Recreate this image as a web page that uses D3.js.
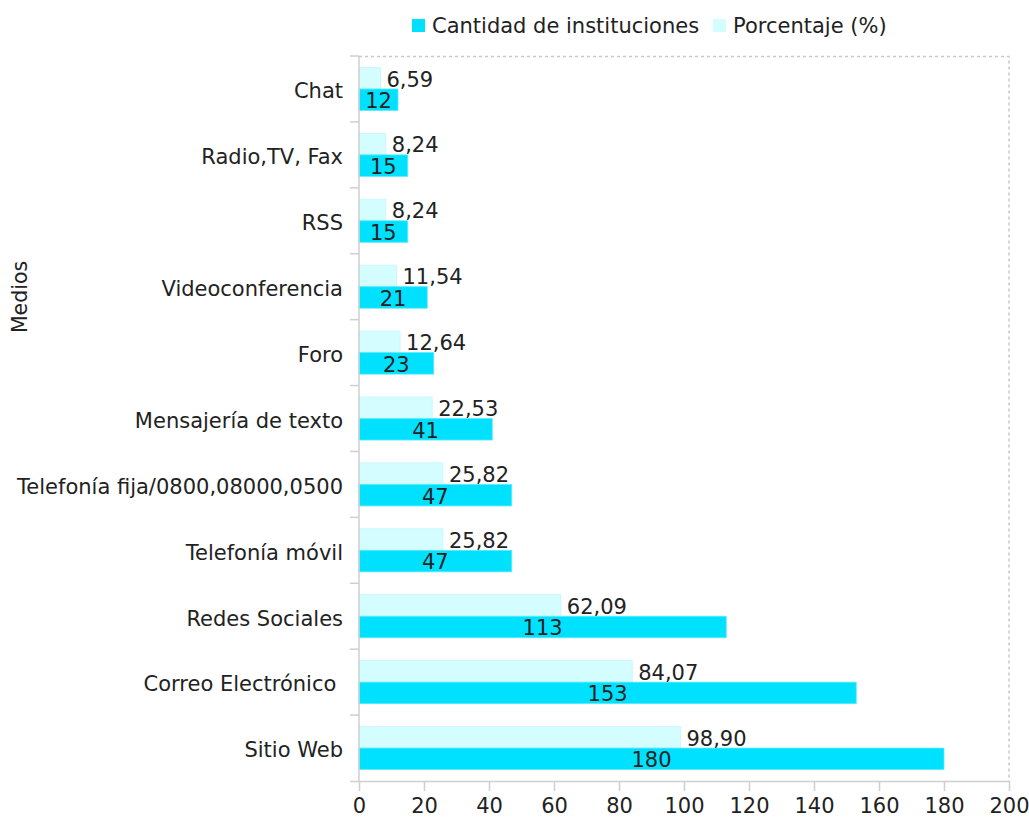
<!DOCTYPE html>
<html>
<head>
<meta charset="utf-8">
<script src="https://cdn.jsdelivr.net/npm/d3@7"></script>
<style>
  body { margin: 0; background: #fff; }
  text { font-family: "DejaVu Sans", Verdana, sans-serif; fill: #222; }
</style>
</head>
<body>
<svg id="chart"></svg>
<script>
// Data
const categories = ['Chat', 'Radio,TV, Fax', 'RSS', 'Videoconferencia', 'Foro', 'Mensajería de texto',
  'Telefonía fija/0800,08000,0500', 'Telefonía móvil', 'Redes Sociales', 'Correo Electrónico\u00a0', 'Sitio Web'];
const cantidad = [12, 15, 15, 21, 23, 41, 47, 47, 113, 153, 180];
const porcentaje = [6.59, 8.24, 8.24, 11.54, 12.64, 22.53, 25.82, 25.82, 62.09, 84.07, 98.90];
const xTicks = [0, 20, 40, 60, 80, 100, 120, 140, 160, 180, 200];
const seriesNames = ['Cantidad de instituciones', 'Porcentaje (%)'];

const darkColor = '#00e1ff';
const lightColor = '#d4fdff';
const width = 1029, height = 819;
const margin = { top: 56, right: 20, bottom: 38, left: 359 };

const svg = d3.select('#chart').attr('width', width).attr('height', height);

const x = d3.scaleLinear().domain([0, 200]).range([margin.left, width - margin.right]);
const y = d3.scaleBand().domain(categories).range([margin.top, height - margin.bottom]);
const sub = d3.scaleBand().domain(['pct', 'cant']).range([0, y.bandwidth()]).paddingOuter(0.53);

// dotted frame top/right
svg.append('path')
  .attr('d', `M${x(0)},${margin.top + 0.5}H${x(200)}V${height - margin.bottom}`)
  .attr('fill', 'none').attr('stroke', '#c8c8c8').attr('stroke-width', 1.5).attr('stroke-dasharray', '3,3');

const rows = svg.append('g').selectAll('g').data(categories).enter().append('g')
  .attr('transform', d => `translate(0,${y(d)})`);

// porcentaje bars
rows.append('rect')
  .attr('x', x(0)).attr('y', sub('pct'))
  .attr('width', (d, i) => x(porcentaje[i]) - x(0)).attr('height', sub.bandwidth())
  .attr('fill', lightColor).attr('stroke', '#c6f6fa').attr('stroke-width', 0.8);
// cantidad bars
rows.append('rect')
  .attr('x', x(0)).attr('y', sub('cant'))
  .attr('width', (d, i) => x(cantidad[i]) - x(0)).attr('height', sub.bandwidth())
  .attr('fill', darkColor).attr('stroke', '#5eeafc').attr('stroke-width', 0.8);

// value labels
rows.append('text')
  .attr('x', (d, i) => x(porcentaje[i]) + 6)
  .attr('y', sub('pct') + sub.bandwidth() / 2 + 1).attr('dy', '0.35em')
  .style('font-size', '21px')
  .text((d, i) => porcentaje[i].toFixed(2).replace('.', ','));
rows.append('text')
  .attr('x', (d, i) => (x(cantidad[i]) + x(0)) / 2)
  .attr('y', sub('cant') + sub.bandwidth() / 2 + 1).attr('dy', '0.35em')
  .attr('text-anchor', 'middle')
  .style('font-size', '21px')
  .text((d, i) => cantidad[i]);

// category labels
rows.append('text')
  .attr('x', x(0) - 16).attr('y', y.bandwidth() / 2 + 2).attr('dy', '0.35em')
  .attr('text-anchor', 'end')
  .style('font-size', '21px').style('white-space', 'pre')
  .text(d => d);

// left axis with ticks at band edges
const left = svg.append('g').attr('stroke', '#cfcfcf').attr('stroke-width', 1.5);
left.append('line').attr('x1', x(0)).attr('x2', x(0)).attr('y1', margin.top).attr('y2', height - margin.bottom);
left.selectAll('.edge').data(categories).enter().append('line')
  .attr('x1', x(0) - 9).attr('x2', x(0))
  .attr('y1', d => y(d)).attr('y2', d => y(d));

// bottom axis
const xAxis = svg.append('g')
  .attr('transform', `translate(0,${height - margin.bottom})`)
  .call(d3.axisBottom(x).tickValues(xTicks).tickSize(10).tickPadding(7));
xAxis.select('.domain').attr('stroke', '#cfcfcf').attr('stroke-width', 1.5)
  .attr('d', `M${x(0) - 9},0.5H${x(200)}`);
xAxis.selectAll('.tick line').attr('stroke', '#cfcfcf').attr('stroke-width', 1.5);
xAxis.selectAll('.tick text').style('font-size', '21px').attr('fill', '#222')
  .style('font-family', '"DejaVu Sans", Verdana, sans-serif');

// y title
svg.append('text')
  .attr('transform', 'translate(20,297) rotate(-90)')
  .attr('text-anchor', 'middle').attr('dy', '0.35em')
  .style('font-size', '20.5px')
  .text('Medios');

// legend
const legend = svg.append('g').attr('transform', 'translate(412,19)');
const legendX = [0, 301];
const legendColors = [darkColor, lightColor];
seriesNames.forEach((name, i) => {
  legend.append('rect').attr('x', legendX[i]).attr('y', 0).attr('width', 13).attr('height', 13)
    .attr('fill', legendColors[i]);
  legend.append('text').attr('x', legendX[i] + 20).attr('y', 7).attr('dy', '0.35em')
    .style('font-size', '21px').text(name);
});
</script>
</body>
</html>
